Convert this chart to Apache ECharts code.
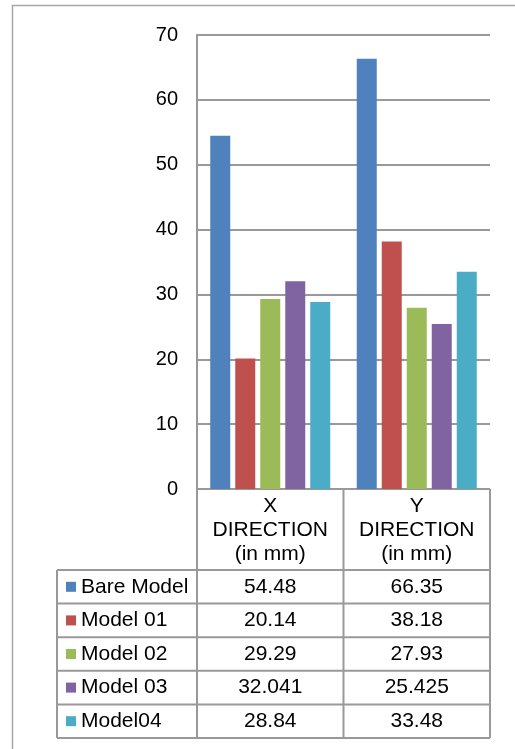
<!DOCTYPE html>
<html>
<head>
<meta charset="utf-8">
<script src="https://cdn.jsdelivr.net/npm/echarts@6/dist/echarts.min.js"></script>
<style>
  html, body { margin: 0; padding: 0; background: #fff; }
  #chart { width: 515px; height: 749px; }
</style>
</head>
<body>
<div id="chart"></div>
<script>
// data
const categories = ['X\nDIRECTION\n(in mm)', 'Y\nDIRECTION\n(in mm)'];
const seriesNames = ['Bare Model', 'Model 01', 'Model 02', 'Model 03', 'Model04'];
const bareModel = [54.48, 66.35];
const model01 = [20.14, 38.18];
const model02 = [29.29, 27.93];
const model03 = [32.041, 25.425];
const model04 = [28.84, 33.48];
const yTicks = [0, 10, 20, 30, 40, 50, 60, 70];

const seriesValues = [bareModel, model01, model02, model03, model04];
const colors = ['#4F81BD', '#C0504D', '#9BBB59', '#8064A2', '#4BACC6'];

// layout
const plotLeft = 197, plotRight = 490, plotTop = 35, plotBottom = 489;
const tableLeft = 57;
const headerBottom = 570;
const rowH = 33.6;
const lineColor = '#999';
const font = 'Liberation Sans, Arial, sans-serif';

let myChart = echarts.init(document.getElementById('chart'));

let graphics = [];
// outer frame (left + top only)
graphics.push({ type: 'polyline', shape: { points: [[12.5, 749], [12.5, 5.5], [515, 5.5]] },
    style: { stroke: '#a6a6a6', lineWidth: 1.5, fill: null }, silent: true });

const colW = (plotRight - plotLeft) / categories.length;
const tableBottom = headerBottom + rowH * seriesNames.length;

// vertical lines of the data table
for (let i = 0; i <= categories.length; i++) {
    let x = plotLeft + colW * i;
    graphics.push({ type: 'line', shape: { x1: x, y1: plotBottom, x2: x, y2: tableBottom },
        style: { stroke: lineColor, lineWidth: 2 }, silent: true });
}
graphics.push({ type: 'line', shape: { x1: tableLeft, y1: headerBottom, x2: tableLeft, y2: tableBottom },
    style: { stroke: lineColor, lineWidth: 2 }, silent: true });
// horizontal lines
graphics.push({ type: 'line', shape: { x1: plotLeft, y1: plotBottom, x2: plotRight, y2: plotBottom },
    style: { stroke: lineColor, lineWidth: 2 }, silent: true });
for (let r = 0; r <= seriesNames.length; r++) {
    let y = headerBottom + rowH * r;
    graphics.push({ type: 'line', shape: { x1: tableLeft, y1: y, x2: plotRight, y2: y },
        style: { stroke: lineColor, lineWidth: 2 }, silent: true });
}
// header texts
categories.forEach((c, i) => {
    graphics.push({ type: 'text', x: plotLeft + colW * (i + 0.5), y: (plotBottom + headerBottom) / 2 + 1,
        style: { text: c, font: '21px ' + font, fill: '#000', align: 'center', verticalAlign: 'middle', lineHeight: 24 },
        silent: true });
});
// rows: legend key + values
seriesNames.forEach((name, r) => {
    let cy = headerBottom + rowH * (r + 0.5);
    graphics.push({ type: 'rect', shape: { x: 66, y: cy - 5, width: 10, height: 10 },
        style: { fill: colors[r] }, silent: true });
    graphics.push({ type: 'text', x: 81, y: cy,
        style: { text: name, font: '21px ' + font, fill: '#000', align: 'left', verticalAlign: 'middle' },
        silent: true });
    seriesValues[r].forEach((v, i) => {
        graphics.push({ type: 'text', x: plotLeft + colW * (i + 0.5), y: cy,
            style: { text: String(v), font: '21px ' + font, fill: '#000', align: 'center', verticalAlign: 'middle' },
            silent: true });
    });
});

myChart.setOption({
    animation: false,
    textStyle: { fontFamily: font },
    grid: {
        left: plotLeft,
        top: plotTop,
        width: plotRight - plotLeft,
        height: plotBottom - plotTop,
        containLabel: false
    },
    xAxis: {
        type: 'category',
        data: categories,
        axisLine: { show: false },
        axisTick: { show: false },
        axisLabel: { show: false }
    },
    yAxis: {
        type: 'value',
        min: yTicks[0],
        max: yTicks[yTicks.length - 1],
        interval: 10,
        axisLine: { show: true, lineStyle: { color: lineColor, width: 2 } },
        axisTick: { show: false },
        axisLabel: { color: '#000', fontSize: 20, margin: 19 },
        splitLine: { show: true, lineStyle: { color: lineColor, width: 2 } }
    },
    series: seriesNames.map((name, i) => ({
        type: 'bar',
        name: name,
        data: seriesValues[i],
        barWidth: 20,
        barGap: '25%',
        itemStyle: { color: colors[i] }
    })),
    graphic: graphics
});
</script>
</body>
</html>
